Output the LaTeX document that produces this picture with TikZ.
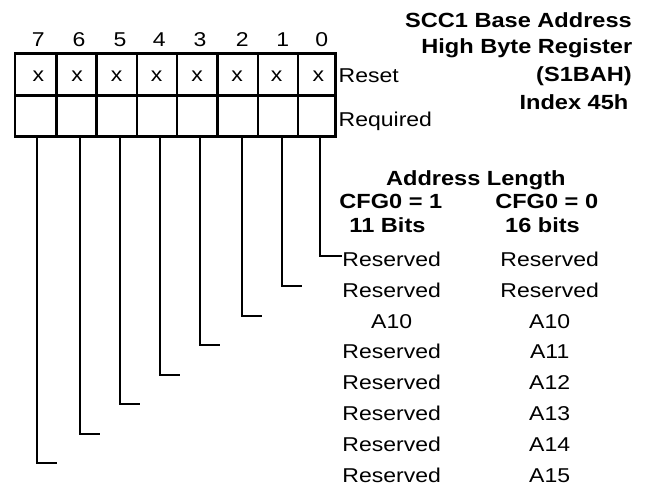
\documentclass[tikz,border=0pt]{standalone}
\usepackage{fontspec}
\setmainfont{Liberation Sans}[FakeStretch=1.15]
\begin{document}
\begin{tikzpicture}[x=1pt,y=-1pt,
  reg/.style={line width=2.8pt},
  lead/.style={line width=1.6pt},
  txt/.style={inner sep=0pt,anchor=base,font=\fontsize{20}{24}\selectfont},
  btxt/.style={inner sep=0pt,anchor=base,font=\fontsize{20.5}{24}\selectfont\bfseries},
  ttl/.style={inner sep=0pt,anchor=base east,font=\fontsize{20.5}{24}\selectfont\bfseries}]
\useasboundingbox (0,0) rectangle (646,487);
% register box
\draw[reg] (15,53.3) rectangle (335.7,136.7);
\draw[reg] (15,95.3) -- (335.7,95.3);
\foreach \x in {56.7,96.7,137,177,217.3,258,298}
  \draw[reg] (\x,53.3) -- (\x,136.7);
% bit numbers and reset values
\foreach \b/\x/\xx in {7/38.3/38.3,6/79/77,5/120/116.7,4/159.3/156.7,3/200/197,2/242.3/237,1/282.7/276.7,0/321.7/318.3}{
  \node[txt] (bit\b) at (\x,46.7) {\b};
  \node[txt] (rst\b) at (\xx,82) {x};
}
\node[txt,anchor=base west] (reset) at (338.5,83) {Reset};
\node[txt,anchor=base west] (required) at (338.5,126) {Required};
% title
\node[ttl] (t1) at (632,27.3) {SCC1 Base Address};
\node[ttl] (t2) at (632.5,53.5) {High Byte Register};
\node[ttl] (t3) at (632,81.5) {(S1BAH)};
\node[ttl] (t4) at (628.5,110) {Index 45h};
% table header
\node[btxt] (hdr) at (475.8,185) {Address Length};
\node[btxt] (cfg1) at (390.8,208.3) {CFG0 = 1};
\node[btxt] (cfg0) at (546.7,208.3) {CFG0 = 0};
\node[btxt] (b11) at (387.5,232) {11 Bits};
\node[btxt] (b16) at (542.5,232) {16 bits};
% rows
\foreach \i/\l/\r in {0/Reserved/Reserved,1/Reserved/Reserved,2/A10/A10,3/Reserved/A11,4/Reserved/A12,5/Reserved/A13,6/Reserved/A14,7/Reserved/A15}{
  \node[txt] (L\i) at (391.7,266.5+30.8*\i) {\l};
  \node[txt] (R\i) at (549.7,266.5+30.8*\i) {\r};
}
% leaders
\foreach \b/\lx/\ex/\ey in {0/320/341.5/256,1/282/301.7/285.7,2/242/262/315.7,3/200/220/344.7,4/160/180/375,5/120/140/404,6/80/100/433.7,7/36.7/56.7/462.7}{
  \coordinate (top\b) at (\lx,136.7);
  \coordinate (end\b) at (\ex,\ey);
  \draw[lead] (top\b) |- (end\b);
}
\end{tikzpicture}
\end{document}
